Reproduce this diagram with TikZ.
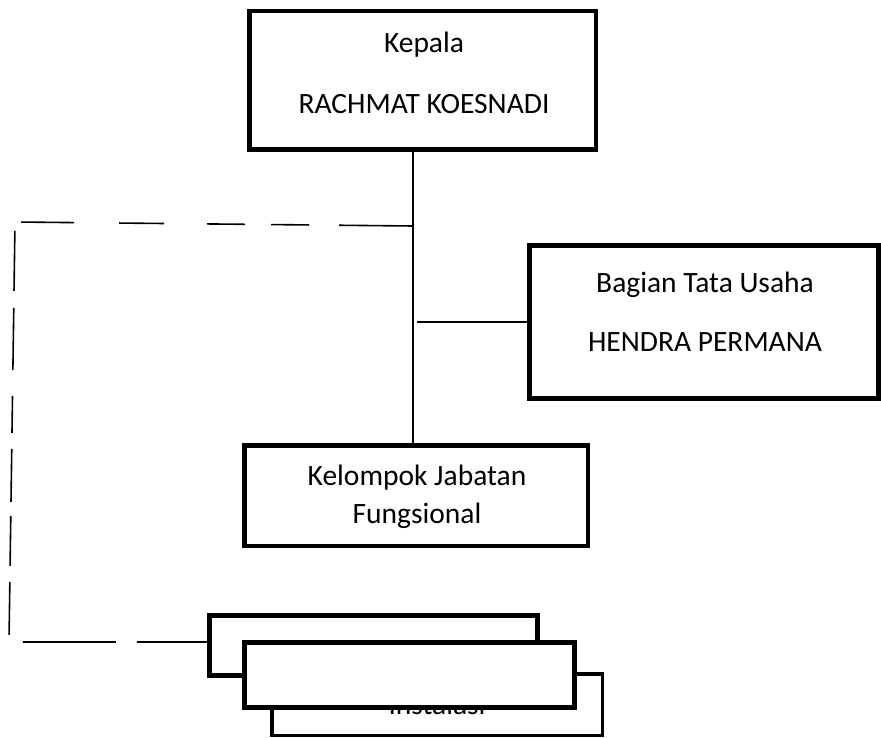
\documentclass[tikz,border=0pt]{standalone}
\usepackage{fontspec}
\setmainfont{Carlito}
\begin{document}
\begin{tikzpicture}[x=1pt,y=-1pt,
  box/.style={draw, rectangle, line width=4.5pt, inner sep=0pt, outer sep=0pt, fill=white},
  thinbox/.style={draw, rectangle, line width=3.5pt, inner sep=0pt, outer sep=0pt, fill=white},
  lbl/.style={anchor=base, inner sep=0pt, font=\fontsize{29.5}{35}\selectfont},
  conn/.style={line width=1.6pt, line cap=butt}]
\useasboundingbox (0,0) rectangle (881,738);

% boxes
\node[box, minimum width=346.5pt, minimum height=138.5pt] (kep) at (422.5,80.5) {};
\node[box, line width=5pt, minimum width=349pt, minimum height=153pt] (bag) at (704,322) {};
\node[box, minimum width=343.5pt, minimum height=100.5pt] (kel) at (416,495.5) {};

% texts
\node[lbl] (kepA) at (424,53) {Kepala};
\node[lbl] (kepB) at (424,114) {RACHMAT KOESNADI};
\node[lbl] (bagA) at (705,292) {Bagian Tata Usaha};
\node[lbl] (bagB) at (705,351) {HENDRA PERMANA};
\node[lbl] (kelA) at (417,485) {Kelompok Jabatan};
\node[lbl] (kelB) at (417,523) {Fungsional};

% connectors
\coordinate (tr) at (413,226);
\coordinate (br) at (417,322);
\coordinate (c1) at (15,222);
\coordinate (c2) at (9,642);
\draw[conn] (kep.south -| tr) -- (kel.north -| tr);
\draw[conn] (br) -- (bag.west);
\draw[conn, dash pattern=on 74pt off 30pt on 38pt off 26pt on 38pt off 43pt on 45pt off 45pt on 53pt off 15pt on 60pt off 17pt on 62pt off 26pt on 37pt off 16pt on 53pt off 14pt on 50pt off 16pt on 53pt off 21pt on 93pt off 21pt on 200pt off 1pt]
  (tr) -- (c1) -- (c2) -- (c2 -| 215,0);

% stacked boxes
\node[thinbox, minimum width=330.5pt, minimum height=61.5pt, font=\fontsize{29.5}{35}\selectfont] (b3) at (437,704.5) {Instalasi};
\node[box, line width=5pt, minimum width=328pt, minimum height=60pt] (b1) at (373.5,645.5) {};
\node[box, line width=5pt, minimum width=330pt, minimum height=65pt] (b2) at (409.5,675) {};
\end{tikzpicture}
\end{document}
